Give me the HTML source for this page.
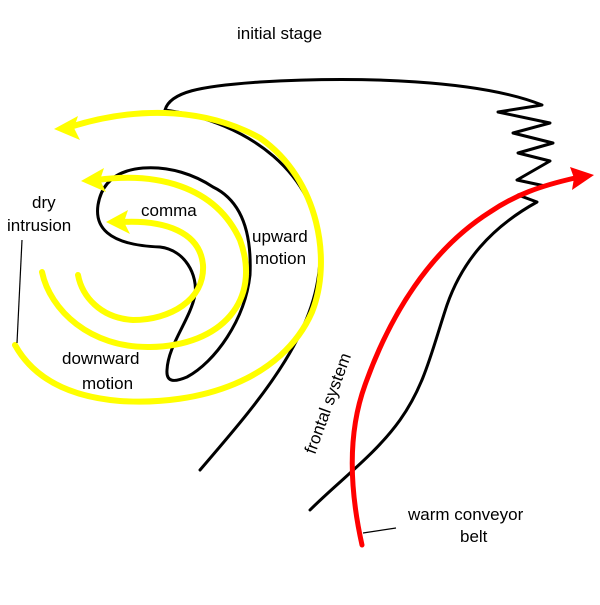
<!DOCTYPE html>
<html><head><style>
body{margin:0;background:#fff}
svg text{font-family:"Liberation Sans",Arial,sans-serif;font-size:17px;fill:#000}
</style></head><body>
<svg width="600" height="600" viewBox="0 0 600 600" xmlns="http://www.w3.org/2000/svg">
<rect width="600" height="600" fill="#fff"/>
<g fill="none" stroke="#000" stroke-width="3" stroke-linejoin="round" stroke-linecap="round">
<path d="M200,470 C260,400 322,330 320,250 C318,175 250,122 165,110 C170,92 200,86 260,82 C360,76 480,80 542,105 L498,112 L550,123 L513,133 L553,143 L518,153 L550,161 L517,180 L545,186 L518,195 L537,202 C490,228 462,262 447,305 C432,350 425,385 400,420 C375,455 340,480 310,510"/>
<path d="M143,168 C120,170 102,180 98,205 C95,225 105,245 160,247 C185,250 198,275 195,295 C190,320 168,345 167,370 C166,383 175,382 187,377 C215,362 245,320 250,275 C252,230 240,200 213,187 C195,175 170,166 143,168 Z"/>
</g>
<g fill="none" stroke="#ffff00" stroke-width="6" stroke-linecap="round">
<path d="M70,127 C130,108 200,105 260,138 C320,180 332,262 312,312 C282,380 200,406 120,401 C60,396 30,372 15,345"/>
<path d="M97,180 C155,172 215,185 240,240 C262,300 222,346 150,347 C90,348 50,310 42,272"/>
<path d="M122,222 C165,220 200,232 203,265 C205,300 170,320 133,320 C100,318 82,296 78,275"/>
</g>
<g fill="#ffff00">
<polygon points="54,129 78,116 74,128 80,140"/>
<polygon points="81,181 104,168 100,180 106,192"/>
<polygon points="106,222 128,210 124,222 130,234"/>
</g>
<path d="M362,545 C352,500 345,440 365,385 C390,315 430,250 490,212 C515,195 540,186 575,178" fill="none" stroke="#ff0000" stroke-width="5" stroke-linecap="round"/>
<polygon points="594,175 570,167 574,178 572,190" fill="#ff0000"/>
<g stroke="#000" stroke-width="1.2">
<line x1="22" y1="240" x2="17" y2="343"/>
<line x1="363" y1="533" x2="396" y2="528"/>
</g>
<text x="237" y="39">initial  stage</text>
<text x="32" y="208">dry</text>
<text x="7" y="231">intrusion</text>
<text x="141" y="216">comma</text>
<text x="252" y="242">upward</text>
<text x="255" y="264">motion</text>
<text x="62" y="364">downward</text>
<text x="82" y="389">motion</text>
<text transform="translate(315,455) rotate(-70)">frontal system</text>
<text x="408" y="520">warm conveyor</text>
<text x="460" y="542">belt</text>
</svg>
</body></html>
